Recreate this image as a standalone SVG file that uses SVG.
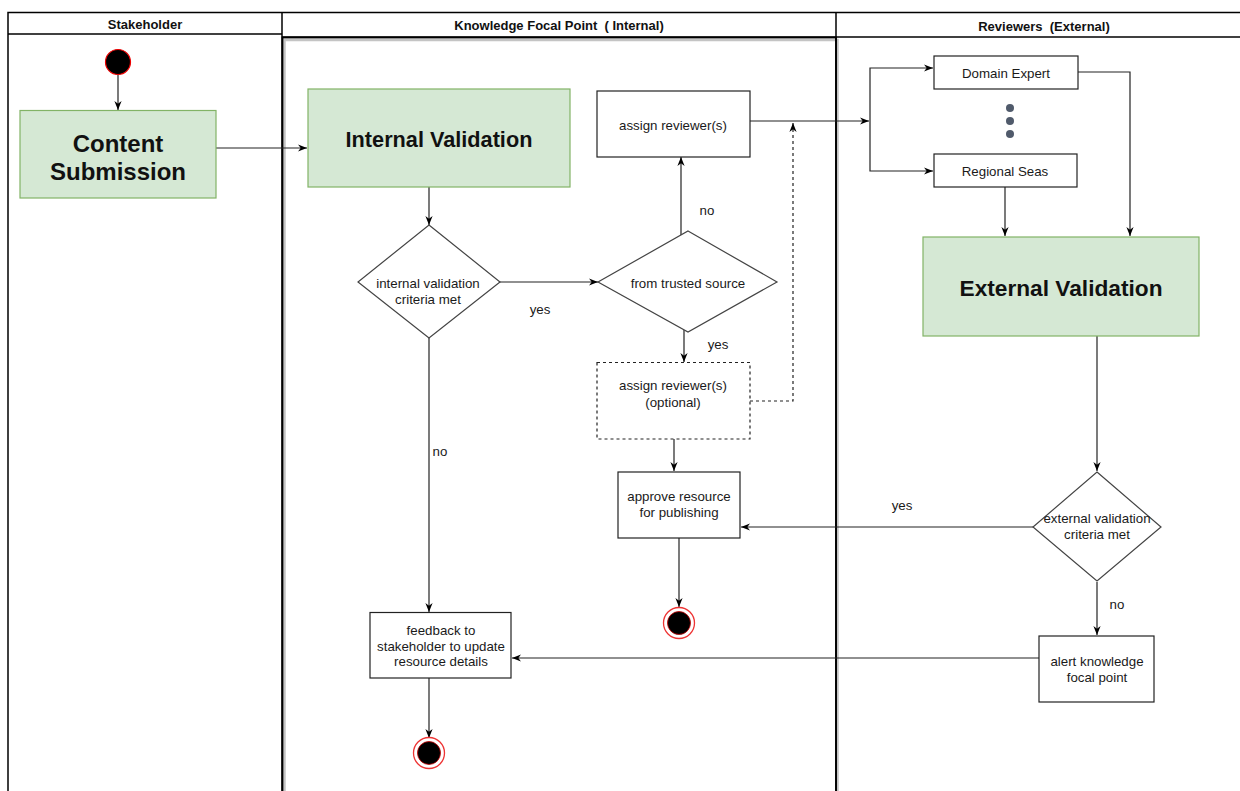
<svg xmlns="http://www.w3.org/2000/svg" width="1240" height="791" viewBox="0 0 1240 791">
<style>
.hdr{font-family:"Liberation Sans",Arial,sans-serif;font-size:13px;font-weight:bold;fill:#111;text-anchor:middle}
.big{font-family:"Liberation Sans",Arial,sans-serif;font-weight:bold;fill:#111;text-anchor:middle}
.t{font-family:"Liberation Sans",Arial,sans-serif;font-size:13.3px;fill:#1a1a1a;text-anchor:middle}
.box{fill:#fff;stroke:#222;stroke-width:1.2}
.green{fill:#d5e8d4;stroke:#82b366;stroke-width:1.2}
.dia{fill:#fff;stroke:#444;stroke-width:1.2}
.ln{fill:none;stroke:#222;stroke-width:1.2}
.lane{fill:none;stroke:#000;stroke-width:1.5}
.dash{fill:none;stroke:#222;stroke-width:1.2;stroke-dasharray:3 3}
</style>
<defs>
<marker id="arr" viewBox="0 0 10 10" refX="10" refY="5" markerWidth="9" markerHeight="9" orient="auto" markerUnits="userSpaceOnUse">
<path d="M0,1 L10,5 L0,9 L3,5 Z" fill="#000"/>
</marker>
</defs>
<rect x="0" y="0" width="1240" height="791" fill="#fff"/>
<g id="lanes">
<rect x="284.5" y="40" width="553" height="800" fill="none" stroke="#c4c4c4" stroke-width="2.5"/>
<path class="lane" d="M8,800 V12.5 H1245"/>
<line class="lane" x1="8" y1="34" x2="282" y2="34"/>
<line class="lane" x1="282" y1="37" x2="1245" y2="37"/>
<line class="lane" x1="282" y1="12" x2="282" y2="800"/>
<line class="lane" x1="836" y1="12" x2="836" y2="800"/>
<rect x="282.5" y="37.5" width="553.5" height="800" fill="none" stroke="#000" stroke-width="1.8"/>
<text class="hdr" x="145" y="28.5">Stakeholder</text>
<text class="hdr" x="559" y="29.5" xml:space="preserve">Knowledge Focal Point  ( Internal)</text>
<text class="hdr" x="1044" y="30.5" xml:space="preserve">Reviewers  (External)</text>
</g>
<g id="connectors">
<path class="ln" d="M118,75 V110" marker-end="url(#arr)"/>
<path class="ln" d="M216,148 H307" marker-end="url(#arr)"/>
<path class="ln" d="M429,187 V225" marker-end="url(#arr)"/>
<path class="ln" d="M500,282 H598" marker-end="url(#arr)"/>
<path class="ln" d="M681,235 V157" marker-end="url(#arr)"/>
<path class="ln" d="M750,121 H869" marker-end="url(#arr)"/>
<path class="ln" d="M870,121 V68 H933" marker-end="url(#arr)"/>
<path class="ln" d="M870,121 V171 H933" marker-end="url(#arr)"/>
<path class="ln" d="M1078,72 H1130 V236" marker-end="url(#arr)"/>
<path class="ln" d="M1005,187 V236" marker-end="url(#arr)"/>
<path class="ln" d="M1097,336 V471" marker-end="url(#arr)"/>
<path class="ln" d="M1033,527 H741" marker-end="url(#arr)"/>
<path class="ln" d="M1097,582 V635" marker-end="url(#arr)"/>
<path class="ln" d="M1039,658 H512" marker-end="url(#arr)"/>
<path class="ln" d="M429,338 V612" marker-end="url(#arr)"/>
<path class="ln" d="M429,678 V738" marker-end="url(#arr)"/>
<path class="ln" d="M684,330 V362" marker-end="url(#arr)"/>
<path class="ln" d="M674,439 V471" marker-end="url(#arr)"/>
<path class="ln" d="M679,538 V607" marker-end="url(#arr)"/>
<path class="dash" d="M750,401 H793 V123" marker-end="url(#arr)"/>
<text class="t" x="707" y="215">no</text>
<text class="t" x="540" y="313.5">yes</text>
<text class="t" x="718" y="348.5">yes</text>
<text class="t" x="440" y="455.5">no</text>
<text class="t" x="902" y="509.5">yes</text>
<text class="t" x="1117" y="608.5">no</text>
</g>
<g id="start">
<circle cx="118" cy="62" r="12.5" fill="#000" stroke="#e00" stroke-width="1.2"/>
</g>
<g id="content-submission">
<rect class="green" x="20" y="110.5" width="196" height="87.5"/>
<text class="big" x="118" y="151.5" font-size="24">Content</text>
<text class="big" x="118" y="179.5" font-size="24">Submission</text>
</g>
<g id="internal-validation">
<rect class="green" x="308" y="89" width="262" height="98"/>
<text class="big" x="439" y="146.5" font-size="21.7">Internal Validation</text>
</g>
<g id="internal-criteria">
<polygon class="dia" points="429,225 500,282 429,338 358,282"/>
<text class="t" x="428" y="288">internal validation</text>
<text class="t" x="428" y="304">criteria met</text>
</g>
<g id="trusted-source">
<polygon class="dia" points="688,231 777,282 688,332 598,282"/>
<text class="t" x="688" y="287.5">from trusted source</text>
</g>
<g id="assign-reviewers">
<rect class="box" x="597" y="91" width="153" height="66"/>
<text class="t" x="673" y="129.5">assign reviewer(s)</text>
</g>
<g id="assign-optional">
<rect class="box" x="597" y="362.5" width="153" height="76.5" stroke-dasharray="3 3"/>
<text class="t" x="673" y="389.5">assign reviewer(s)</text>
<text class="t" x="673" y="406.5">(optional)</text>
</g>
<g id="approve">
<rect class="box" x="618" y="472" width="122" height="66"/>
<text class="t" x="679" y="500.5">approve resource</text>
<text class="t" x="679" y="516.5">for publishing</text>
</g>
<g id="end-approve">
<circle cx="679" cy="623" r="15.5" fill="#fff" stroke="#e33" stroke-width="1.3"/>
<circle cx="679" cy="623" r="11.5" fill="#000" stroke="#c00" stroke-width="0.8"/>
</g>
<g id="feedback">
<rect class="box" x="370" y="612.5" width="141" height="65.5"/>
<text class="t" x="441" y="634.5">feedback to</text>
<text class="t" x="441" y="650.5">stakeholder to update</text>
<text class="t" x="441" y="666">resource details</text>
</g>
<g id="end-feedback">
<circle cx="429" cy="753" r="15.5" fill="#fff" stroke="#e33" stroke-width="1.3"/>
<circle cx="429" cy="753" r="11.5" fill="#000" stroke="#c00" stroke-width="0.8"/>
</g>
<g id="domain-expert">
<rect class="box" x="934" y="56" width="144" height="33"/>
<text class="t" x="1006" y="77.5">Domain Expert</text>
</g>
<g id="dots">
<circle cx="1010" cy="108" r="4" fill="#505a6b"/>
<circle cx="1010" cy="121" r="4" fill="#505a6b"/>
<circle cx="1010" cy="134" r="4" fill="#505a6b"/>
</g>
<g id="regional-seas">
<rect class="box" x="934" y="154" width="143" height="33"/>
<text class="t" x="1005" y="175.5">Regional Seas</text>
</g>
<g id="external-validation">
<rect class="green" x="923" y="237" width="276" height="99"/>
<text class="big" x="1061" y="296" font-size="22.7">External Validation</text>
</g>
<g id="external-criteria">
<polygon class="dia" points="1097,472 1161,527 1097,581 1033,527"/>
<text class="t" x="1097" y="522.5">external validation</text>
<text class="t" x="1097" y="538.5">criteria met</text>
</g>
<g id="alert">
<rect class="box" x="1039" y="636" width="115" height="66"/>
<text class="t" x="1097" y="665.5">alert knowledge</text>
<text class="t" x="1097" y="681.5">focal point</text>
</g>
</svg>
